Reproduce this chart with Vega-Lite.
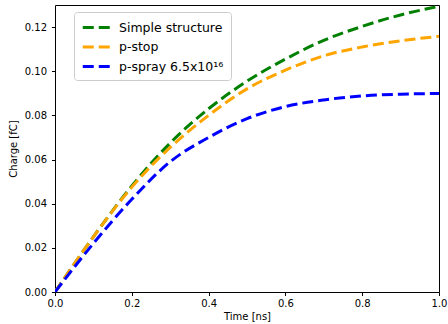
{
  "$schema": "https://vega.github.io/schema/vega-lite/v6.json",
  "width": 384,
  "height": 287,
  "autosize": {"type": "none"},
  "padding": {"left": 55, "top": 5, "right": 9, "bottom": 32},
  "background": "white",
  "config": {
    "font": "DejaVu Sans",
    "view": {"stroke": "#000000", "strokeWidth": 1},
    "axis": {
      "grid": false,
      "domain": false,
      "labelFlush": false,
      "tickColor": "#000000",
      "tickSize": 3.5,
      "labelColor": "#000000",
      "labelFontSize": 10,
      "labelFont": "DejaVu Sans",
      "titleFont": "DejaVu Sans",
      "titleFontSize": 10,
      "titleFontWeight": "normal",
      "titleColor": "#000000"
    }
  },
  "data": {
    "values": [
      {"s": "Simple structure", "t": 0.0, "v": 0.0},
      {"s": "Simple structure", "t": 0.1, "v": 0.025},
      {"s": "Simple structure", "t": 0.2, "v": 0.048},
      {"s": "Simple structure", "t": 0.3, "v": 0.0675},
      {"s": "Simple structure", "t": 0.4, "v": 0.083},
      {"s": "Simple structure", "t": 0.5, "v": 0.0955},
      {"s": "Simple structure", "t": 0.6, "v": 0.1055},
      {"s": "Simple structure", "t": 0.7, "v": 0.114},
      {"s": "Simple structure", "t": 0.8, "v": 0.1203},
      {"s": "Simple structure", "t": 0.9, "v": 0.1255},
      {"s": "Simple structure", "t": 1.0, "v": 0.1294},
      {"s": "p-stop", "t": 0.0, "v": 0.0},
      {"s": "p-stop", "t": 0.1, "v": 0.025},
      {"s": "p-stop", "t": 0.2, "v": 0.0475},
      {"s": "p-stop", "t": 0.3, "v": 0.0655},
      {"s": "p-stop", "t": 0.4, "v": 0.08},
      {"s": "p-stop", "t": 0.5, "v": 0.092},
      {"s": "p-stop", "t": 0.6, "v": 0.1005},
      {"s": "p-stop", "t": 0.7, "v": 0.107},
      {"s": "p-stop", "t": 0.8, "v": 0.111},
      {"s": "p-stop", "t": 0.9, "v": 0.1138},
      {"s": "p-stop", "t": 1.0, "v": 0.1158},
      {"s": "p-spray 6.5x10¹⁶", "t": 0.0, "v": 0.0},
      {"s": "p-spray 6.5x10¹⁶", "t": 0.1, "v": 0.022},
      {"s": "p-spray 6.5x10¹⁶", "t": 0.2, "v": 0.042},
      {"s": "p-spray 6.5x10¹⁶", "t": 0.3, "v": 0.059},
      {"s": "p-spray 6.5x10¹⁶", "t": 0.4, "v": 0.07},
      {"s": "p-spray 6.5x10¹⁶", "t": 0.5, "v": 0.0785},
      {"s": "p-spray 6.5x10¹⁶", "t": 0.6, "v": 0.084},
      {"s": "p-spray 6.5x10¹⁶", "t": 0.7, "v": 0.087},
      {"s": "p-spray 6.5x10¹⁶", "t": 0.8, "v": 0.0888},
      {"s": "p-spray 6.5x10¹⁶", "t": 0.9, "v": 0.0896},
      {"s": "p-spray 6.5x10¹⁶", "t": 1.0, "v": 0.0899}
    ]
  },
  "mark": {"type": "line", "strokeWidth": 3, "strokeDash": [11, 5], "interpolate": "monotone", "clip": true},
  "encoding": {
    "x": {
      "field": "t", "type": "quantitative",
      "scale": {"domain": [0, 1], "nice": false, "zero": false},
      "axis": {"title": "Time [ns]", "values": [0, 0.2, 0.4, 0.6, 0.8, 1.0], "format": ".1f", "labelPadding": 3, "titlePadding": 3}
    },
    "y": {
      "field": "v", "type": "quantitative",
      "scale": {"domain": [0, 0.13], "nice": false},
      "axis": {"title": "Charge [fC]", "values": [0, 0.02, 0.04, 0.06, 0.08, 0.1, 0.12], "format": ".2f", "labelPadding": 5, "titlePadding": 6}
    },
    "color": {
      "field": "s", "type": "nominal",
      "scale": {"domain": ["Simple structure", "p-stop", "p-spray 6.5x10¹⁶"], "range": ["#008000", "#ffa500", "#0000ff"]},
      "legend": {
        "orient": "none", "legendX": 19, "legendY": 7, "title": null,
        "symbolType": "M-1,0H3", "symbolSize": 182, "symbolStrokeWidth": 3, "symbolDash": [11, 5],
        "labelFontSize": 12.5, "labelFont": "DejaVu Sans", "labelColor": "#000000",
        "padding": 7, "strokeColor": "#cccccc", "fillColor": "#ffffff", "cornerRadius": 3,
        "rowPadding": 4.5, "labelOffset": 21, "labelLimit": 200
      }
    }
  }
}
